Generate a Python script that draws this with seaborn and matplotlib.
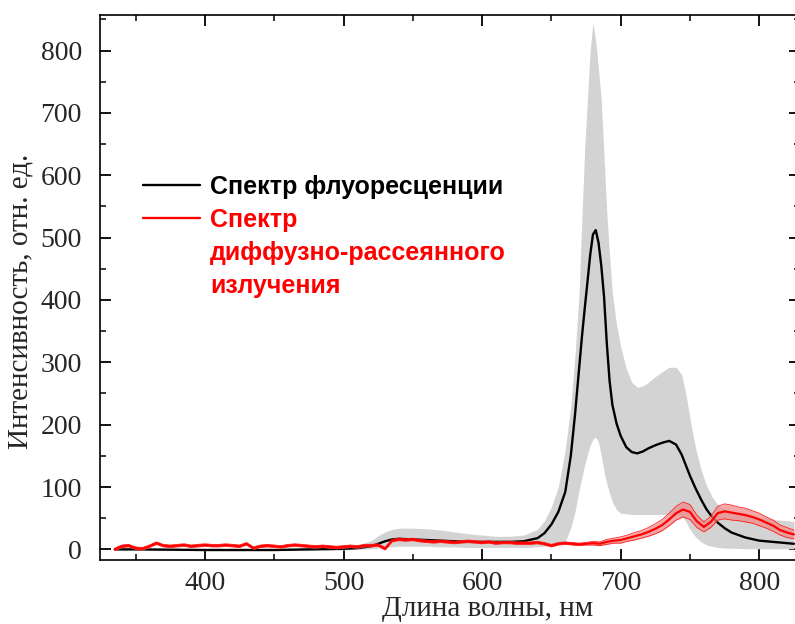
#!/usr/bin/env python3
import matplotlib

matplotlib.use("Agg")
import matplotlib.pyplot as plt
import pandas as pd
import seaborn as sns
from matplotlib.lines import Line2D
from matplotlib.ticker import MultipleLocator

# fluorescence spectrum: mean and min/max envelope
wl_fl = [335, 350, 400, 450, 500, 510, 520, 525, 530, 535,
         540, 550, 560, 570, 580, 590, 600, 610, 620, 630,
         640, 645, 650, 655, 660, 664, 667, 670, 672, 674,
         676, 678, 680, 682, 684, 686, 688, 690, 692, 694,
         697, 700, 704, 708, 712, 716, 720, 725, 730, 735,
         740, 744, 747, 750, 754, 758, 762, 766, 770, 775,
         780, 790, 800, 810, 825]
fl_mean = [0, 0, -1, -1, 1, 2, 5, 9, 13, 16,
           17, 16, 15, 14, 13, 12, 12, 12, 12, 13,
           18, 26, 40, 60, 92, 150, 215, 290, 340, 385,
           428, 472, 505, 512, 492, 455, 405, 330, 270, 232,
           202, 182, 164, 156, 154, 157, 162, 167, 171, 174,
           168, 152, 135, 118, 98, 80, 64, 52, 43, 34,
           27, 19, 14, 12, 9]
fl_upper = [2, 2, 1, 1, 4, 7, 14, 22, 28, 32,
            34, 34, 33, 31, 28, 25, 23, 21, 21, 23,
            32, 46, 68, 100, 160, 230, 310, 411, 530, 640,
            723, 800, 845, 815, 770, 720, 630, 540, 470, 411,
            360, 325, 290, 268, 260, 262, 268, 277, 285, 292,
            292, 280, 250, 210, 163, 128, 102, 84, 72, 63,
            58, 54, 51, 48, 45]
fl_lower = [-1, -1, -2, -2, -1, 0, 1, 2, 3, 4,
            5, 5, 5, 4, 4, 3, 3, 3, 3, 3,
            4, 5, 7, 9, 12, 35, 60, 95, 115, 135,
            152, 167, 177, 180, 172, 150, 125, 105, 90, 76,
            64, 58, 57, 56, 56, 56, 56, 56, 56, 56,
            55, 53, 45, 32, 20, 12, 7, 5, 3, 2,
            2, 1, 1, 1, 1]

# diffuse scattering spectrum: mean and half-width of the band
wl_sc = [335, 340, 345, 350, 355, 360, 365, 370, 375, 380,
         385, 390, 395, 400, 405, 410, 415, 420, 425, 430,
         435, 440, 445, 450, 455, 460, 465, 470, 475, 480,
         485, 490, 495, 500, 505, 510, 515, 520, 525, 530,
         535, 540, 545, 550, 555, 560, 565, 570, 575, 580,
         585, 590, 595, 600, 605, 610, 615, 620, 625, 630,
         635, 640, 645, 650, 655, 660, 665, 670, 675, 680,
         685, 690, 695, 700, 705, 710, 715, 720, 725, 730,
         735, 740, 745, 750, 755, 760, 765, 770, 775, 780,
         785, 790, 795, 800, 805, 810, 815, 820, 825]
sc_mean = [0, 5, 6, 2, 1, 5, 10, 6, 5, 6,
           7, 5, 6, 7, 6, 6, 7, 6, 5, 9,
           2, 5, 6, 5, 4, 6, 7, 6, 5, 4,
           5, 4, 3, 4, 5, 4, 6, 6, 7, 1,
           14, 16, 15, 16, 14, 13, 12, 13, 12, 11,
           12, 13, 12, 11, 12, 10, 11, 11, 10, 10,
           10, 11, 9, 6, 9, 10, 9, 8, 9, 10,
           9, 12, 14, 15, 18, 21, 24, 28, 33, 39,
           48, 58, 64, 60, 45, 36, 44, 58, 61, 59,
           57, 55, 52, 48, 43, 38, 31, 27, 24]
sc_err = [2, 2, 2, 2, 2, 2, 2, 2, 2, 2,
          2, 2, 2, 2, 2, 2, 2, 2, 2, 2,
          2, 2, 2, 2, 2, 2, 2, 2, 2, 2,
          2, 2, 2, 2, 2, 2, 2, 2, 2, 2,
          2, 2, 2, 2, 2, 2, 2, 2, 2, 2,
          2, 2, 2, 2, 2, 2, 2, 2, 2, 2,
          2, 2, 2, 2, 2, 2, 2, 2, 2, 3,
          3, 4, 4, 5, 5, 6, 6, 7, 8, 9,
          10, 11, 12, 12, 10, 8, 9, 11, 12, 12,
          11, 11, 10, 10, 9, 9, 8, 8, 7]

labels = ["Спектр флуоресценции", "Спектр", "диффузно-рассеянного", "излучения"]
label_colors = ["black", "#ff0000", "#ff0000", "#ff0000"]


def main() -> None:
    fl = pd.DataFrame({"wl": wl_fl, "mean": fl_mean, "lo": fl_lower, "hi": fl_upper})
    sc = pd.DataFrame({"wl": wl_sc, "mean": sc_mean, "err": sc_err})
    sc["lo"] = sc["mean"] - sc["err"]
    sc["hi"] = sc["mean"] + sc["err"]

    sns.set_theme(style="ticks")
    plt.rcParams["font.family"] = ["Liberation Serif", "DejaVu Serif"]

    fig = plt.figure(figsize=(7.95, 6.24), dpi=100)
    ax = fig.add_axes([0.1258, 0.1026, 0.8805, 0.8734])

    ax.fill_between(fl["wl"], fl["lo"], fl["hi"], color="#d3d3d3", lw=0, zorder=1)
    sns.lineplot(data=fl, x="wl", y="mean", color="black", lw=1.7, ax=ax, zorder=3)

    ax.fill_between(sc["wl"], sc["lo"], sc["hi"], color="#f08a8a", alpha=0.75, lw=0, zorder=4)
    sns.lineplot(data=sc, x="wl", y="lo", color="#ff2020", lw=0.6, ax=ax, zorder=4)
    sns.lineplot(data=sc, x="wl", y="hi", color="#ff2020", lw=0.6, ax=ax, zorder=4)
    sns.lineplot(data=sc, x="wl", y="mean", color="#ff0000", lw=1.6, ax=ax, zorder=5)

    ax.set_xlim(324.3, 829.4)
    ax.set_ylim(-17, 857)
    ax.xaxis.set_major_locator(MultipleLocator(100))
    ax.xaxis.set_minor_locator(MultipleLocator(50))
    ax.yaxis.set_major_locator(MultipleLocator(100))
    ax.yaxis.set_minor_locator(MultipleLocator(50))

    for side in ["top", "right", "bottom", "left"]:
        ax.spines[side].set_linewidth(1.2)
        ax.spines[side].set_color("black")
    ax.tick_params(which="both", direction="in", top=True, right=True, color="black")
    ax.tick_params(which="major", length=8, width=1.3, labelsize=20)
    ax.tick_params(which="minor", length=4, width=1.1)
    ax.tick_params(axis="y", which="major", pad=13)
    ax.tick_params(axis="x", which="major", pad=8)

    ax.set_xlabel("Длина волны, нм", fontsize=21)
    ax.set_ylabel("Интенсивность, отн. ед.", fontsize=21)
    ax.xaxis.set_label_coords(0.554, -0.066)
    ax.yaxis.set_label_coords(-0.095, 0.475)

    handles = [
        Line2D([], [], color="black", lw=1.7),
        Line2D([], [], color="#ff0000", lw=1.7),
        Line2D([], [], color="none"),
        Line2D([], [], color="none"),
    ]
    leg = ax.legend(
        handles,
        labels,
        loc="upper left",
        bbox_to_anchor=(0.061, 0.707),
        frameon=False,
        borderpad=0,
        borderaxespad=0,
        handlelength=2.3,
        handletextpad=0.4,
        labelspacing=0.36,
        prop={"family": "Liberation Sans", "weight": "bold", "size": 18},
    )
    for text, col in zip(leg.get_texts(), label_colors):
        text.set_color(col)

    fig.savefig("out.png", dpi=100)
    plt.close(fig)


if __name__ == "__main__":
    main()
